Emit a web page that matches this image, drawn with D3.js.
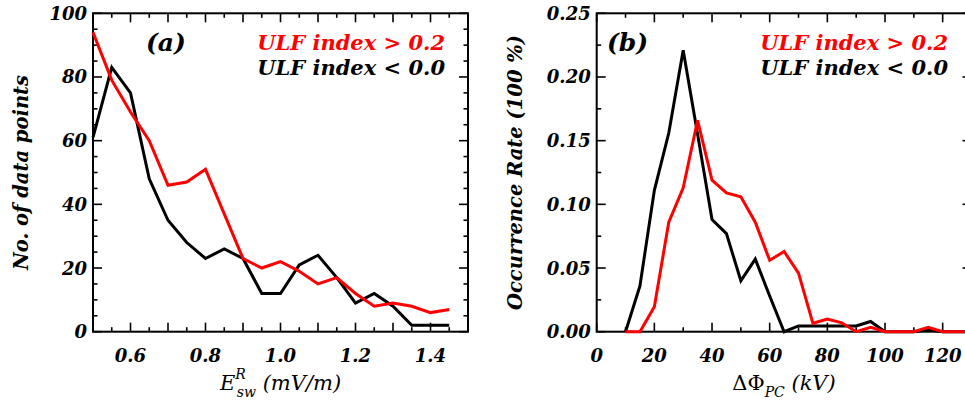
<!DOCTYPE html>
<html>
<head>
<meta charset="utf-8">
<script src="https://cdn.jsdelivr.net/npm/d3@7"></script>
<style>
  body { margin: 0; background: #fff; }
  svg { display: block; }
  .tick-label { font-family: "DejaVu Serif", serif; font-weight: bold; font-style: italic; font-size: 18px; fill: #000; }
  .ytitle { font-family: "DejaVu Serif", serif; font-weight: bold; font-style: italic; font-size: 19.5px; }
  .xtitle { font-family: "DejaVu Serif", serif; font-style: italic; font-size: 21px; }
  .note { font-family: "DejaVu Serif", serif; font-weight: bold; font-style: italic; font-size: 21px; }
  .tag { font-family: "DejaVu Serif", serif; font-weight: bold; font-style: italic; font-size: 25px; }
</style>
</head>
<body>
<div id="chart"></div>
<script>
/* Two-panel line chart: ULF index distributions */

// panel (a) data
const eswBins = [0.5, 0.55, 0.6, 0.65, 0.7, 0.75, 0.8, 0.85, 0.9, 0.95, 1.0, 1.05, 1.1, 1.15, 1.2, 1.25, 1.3, 1.35, 1.4, 1.45];
const highA = [94, 79, 69, 60, 46, 47, 51, 37, 23, 20, 22, 19, 15, 17, 12, 8, 9, 8, 6, 7];
const lowA = [61, 83, 75, 48, 35, 28, 23, 26, 23, 12, 12, 21, 24, 17, 9, 12, 8, 2, 2, 2];
const xTicksA = [0.6, 0.8, 1.0, 1.2, 1.4];
const yTicksA = [0, 20, 40, 60, 80, 100];

// panel (b) data
const phiBins = [10, 15, 20, 25, 30, 35, 40, 45, 50, 55, 60, 65, 70, 75, 80, 85, 90, 95, 100, 105, 110, 115, 120, 125, 130];
const highB = [0, 0, 0.0196, 0.086, 0.113, 0.166, 0.119, 0.109, 0.106, 0.086, 0.056, 0.063, 0.046, 0.0066, 0.010, 0.007, 0, 0.0034, 0, 0, 0, 0.0034, 0, 0, 0];
const lowB = [0, 0.036, 0.111, 0.156, 0.221, 0.155, 0.088, 0.077, 0.040, 0.057, 0.028, 0, 0.0045, 0.0045, 0.0045, 0.0045, 0.0045, 0.008, 0, 0, 0, 0.0015, 0, 0, 0];
const xTicksB = [0, 20, 40, 60, 80, 100, 120];
const yTicksB = [0, 0.05, 0.10, 0.15, 0.20, 0.25];

const seriesLabels = ["ULF index > 0.2", "ULF index < 0.0"];
const seriesColors = ["#ff0000", "#000000"];

const W = 965, H = 401;
const frameTop = 13.3, frameBottom = 331.7;

const svg = d3.select("#chart").append("svg")
    .attr("width", W)
    .attr("height", H);

function drawTicks(g, scale, values, len, side, x0, y0) {
    values.forEach(v => {
        const p = scale(v);
        if (side === "bottom") g.append("line").attr("x1", p).attr("x2", p).attr("y1", y0).attr("y2", y0 - len);
        if (side === "top") g.append("line").attr("x1", p).attr("x2", p).attr("y1", y0).attr("y2", y0 + len);
        if (side === "left") g.append("line").attr("y1", p).attr("y2", p).attr("x1", x0).attr("x2", x0 + len);
        if (side === "right") g.append("line").attr("y1", p).attr("y2", p).attr("x1", x0).attr("x2", x0 - len);
    });
}

function drawPanel(opt) {
    const { x, y, bins, high, low, xTicks, yTicks, xMajor, xMinor, yMajor, yMinor, yFmt, xFmt, tag } = opt;
    const [x0, x1] = x.range();
    const g = svg.append("g");

    // frame ticks (inward, all four sides)
    const tg = g.append("g").attr("stroke", "#000").attr("stroke-width", 1.6);
    drawTicks(tg, x, xMinor, 4.5, "bottom", 0, frameBottom);
    drawTicks(tg, x, xMajor, 9, "bottom", 0, frameBottom);
    drawTicks(tg, x, xMinor, 4.5, "top", 0, frameTop);
    drawTicks(tg, x, xMajor, 9, "top", 0, frameTop);
    drawTicks(tg, y, yMinor, 4.5, "left", x0, 0);
    drawTicks(tg, y, yMajor, 9, "left", x0, 0);
    drawTicks(tg, y, yMinor, 4.5, "right", x1, 0);
    drawTicks(tg, y, yMajor, 9, "right", x1, 0);

    // frame
    g.append("rect")
        .attr("x", x0).attr("y", frameTop)
        .attr("width", x1 - x0).attr("height", frameBottom - frameTop)
        .attr("fill", "none")
        .attr("stroke", "#000")
        .attr("stroke-width", 2);

    // tick labels
    g.selectAll(".ylab")
        .data(yTicks)
        .enter()
        .append("text")
        .attr("class", "tick-label")
        .attr("x", x0 - 6)
        .attr("y", d => y(d))
        .attr("dy", "0.36em")
        .attr("text-anchor", "end")
        .text(yFmt);

    g.selectAll(".xlab")
        .data(xTicks)
        .enter()
        .append("text")
        .attr("class", "tick-label")
        .attr("x", d => x(d))
        .attr("y", frameBottom + 30)
        .attr("text-anchor", "middle")
        .text(xFmt);

    // lines
    const line = d3.line()
        .x(d => x(d[0]))
        .y(d => y(d[1]));

    [low, high].forEach((vals, i) => {
        g.append("path")
            .datum(bins.map((b, j) => [b, vals[j]]))
            .attr("fill", "none")
            .attr("stroke", i === 0 ? seriesColors[1] : seriesColors[0])
            .attr("stroke-width", 3)
            .attr("stroke-linejoin", "miter")
            .attr("d", line);
    });

    // panel tag + legend text
    g.append("text")
        .attr("class", "tag")
        .attr("x", tag.x)
        .attr("y", 51)
        .text(tag.text);

    seriesLabels.forEach((s, i) => {
        g.append("text")
            .attr("class", "note")
            .attr("x", tag.right)
            .attr("y", 50 + i * 25)
            .attr("text-anchor", "end")
            .attr("fill", seriesColors[i])
            .text(s);
    });
    return g;
}

// Panel (a)
const xa = d3.scaleLinear().domain([0.5, 1.5]).range([93, 468]);
const ya = d3.scaleLinear().domain([0, 100]).range([frameBottom, frameTop]);

const ga = drawPanel({
    x: xa, y: ya, bins: eswBins, high: highA, low: lowA,
    xTicks: xTicksA, yTicks: yTicksA,
    xMajor: d3.range(0.6, 1.45, 0.1), xMinor: d3.range(0.55, 1.5, 0.1),
    yMajor: yTicksA, yMinor: d3.range(5, 100, 5).filter(v => v % 20 !== 0),
    yFmt: d => d3.format("d")(d), xFmt: d => d3.format(".1f")(d),
    tag: { text: "(a)", x: 146, right: 445 }
});

ga.append("text")
    .attr("class", "ytitle")
    .attr("transform", `translate(28,${(frameTop + frameBottom) / 2}) rotate(-90)`)
    .attr("text-anchor", "middle")
    .text("No. of data points");

const xta = ga.append("text")
    .attr("class", "xtitle")
    .attr("x", (93 + 468) / 2)
    .attr("y", 390)
    .attr("text-anchor", "middle");
xta.append("tspan").text("E");
xta.append("tspan").attr("font-size", "14px").attr("dy", -11).text("R");
xta.append("tspan").attr("font-size", "14px").attr("dx", -9).attr("dy", 18).text("sw");
xta.append("tspan").attr("dy", -7).text(" (mV/m)");

// Panel (b)
const xb = d3.scaleLinear().domain([0, 130]).range([596.7, 971.5]);
const yb = d3.scaleLinear().domain([0, 0.25]).range([frameBottom, frameTop]);

const gb = drawPanel({
    x: xb, y: yb, bins: phiBins, high: highB, low: lowB,
    xTicks: xTicksB, yTicks: yTicksB,
    xMajor: d3.range(0, 131, 20), xMinor: d3.range(10, 131, 20),
    yMajor: yTicksB, yMinor: [0.025, 0.075, 0.125, 0.175, 0.225],
    yFmt: d => d3.format(".2f")(d), xFmt: d => d3.format("d")(d),
    tag: { text: "(b)", x: 607, right: 948 }
});

gb.append("text")
    .attr("class", "ytitle")
    .attr("transform", `translate(522,${(frameTop + frameBottom) / 2}) rotate(-90)`)
    .attr("text-anchor", "middle")
    .text("Occurrence Rate (100 %)");

const xtb = gb.append("text")
    .attr("class", "xtitle")
    .attr("x", 784)
    .attr("y", 390)
    .attr("text-anchor", "middle");
xtb.append("tspan").attr("font-style", "normal").text("ΔΦ");
xtb.append("tspan").attr("font-size", "14px").attr("dy", 7).text("PC");
xtb.append("tspan").attr("dy", -7).text(" (kV)");
</script>
</body>
</html>
